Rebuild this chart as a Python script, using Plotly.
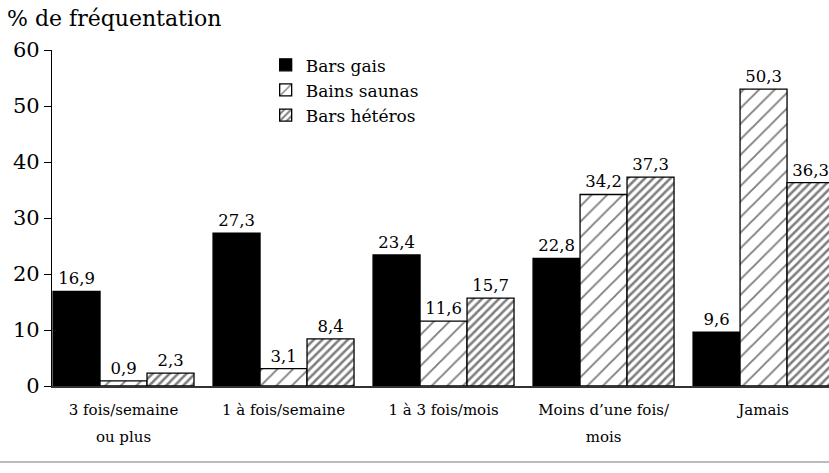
import plotly.graph_objects as go

categories_line1 = ["3 fois/semaine", "1 à fois/semaine", "1 à 3 fois/mois",
                    "Moins d’une fois/", "Jamais"]
categories_line2 = ["ou plus", "", "", "mois", ""]
series_names = ["Bars gais", "Bains saunas", "Bars hétéros"]
bars_gais = [16.9, 27.3, 23.4, 22.8, 9.6]
bains_saunas = [0.9, 3.1, 11.6, 34.2, 53.0]   # last bar drawn taller than its label in the picture
bars_heteros = [2.3, 8.4, 15.7, 37.3, 36.3]
labels_gais = ["16,9", "27,3", "23,4", "22,8", "9,6"]
labels_saunas = ["0,9", "3,1", "11,6", "34,2", "50,3"]
labels_heteros = ["2,3", "8,4", "15,7", "37,3", "36,3"]
y_ticks = [0, 10, 20, 30, 40, 50, 60]

FONT = "DejaVu Serif"
xs = list(range(len(categories_line1)))

fig = go.Figure()
series = [
    (series_names[0], bars_gais, labels_gais, dict(color="black")),
    (series_names[1], bains_saunas, labels_saunas,
     dict(color="white", pattern=dict(shape="/", size=11, solidity=0.17, fgcolor="black", bgcolor="white"))),
    (series_names[2], bars_heteros, labels_heteros,
     dict(color="white", pattern=dict(shape="/", size=6, solidity=0.42, fgcolor="black", bgcolor="white"))),
]
for name, vals, labs, mk in series:
    fig.add_trace(go.Bar(
        x=xs, y=vals, name=name, text=labs, textposition="outside",
        textfont=dict(family=FONT, size=16.5, color="black"),
        cliponaxis=False,
        marker=dict(line=dict(color="black", width=1.3), **mk),
    ))
# empty helper trace so the second-line category axis is drawn
fig.add_trace(go.Scatter(x=[], y=[], xaxis="x2", showlegend=False, hoverinfo="skip"))

xrange = [-0.447, 4.409]
fig.update_layout(
    width=829, height=473,
    margin=dict(l=52, r=0, t=50, b=87),
    paper_bgcolor="white", plot_bgcolor="white",
    barmode="group", bargap=0.119, bargroupgap=0,
    font=dict(family=FONT, color="black"),
    showlegend=True,
    legend=dict(x=0.275, y=1.008, xanchor="left", yanchor="top",
                font=dict(family=FONT, size=17, color="black"),
                bgcolor="rgba(0,0,0,0)", tracegroupgap=0),
    xaxis=dict(
        tickmode="array", tickvals=xs, ticktext=categories_line1,
        range=xrange, showgrid=False, zeroline=False,
        showline=True, linecolor="#333", linewidth=1.5,
        ticks="", ticklabelstandoff=9,
        tickfont=dict(family=FONT, size=15, color="black"),
    ),
    xaxis2=dict(
        overlaying="x", anchor="y", side="bottom",
        tickmode="array", tickvals=xs, ticktext=categories_line2,
        range=xrange, showgrid=False, zeroline=False, showline=False,
        ticks="", ticklabelstandoff=40,
        tickfont=dict(family=FONT, size=15, color="black"),
    ),
    yaxis=dict(
        range=[0, 60], tickvals=y_ticks, showgrid=False, zeroline=False,
        showline=True, linecolor="black", linewidth=1.3,
        ticks="outside", ticklen=7, tickwidth=1.3, tickcolor="black",
        tickfont=dict(family=FONT, size=21, color="black"),
    ),
    annotations=[dict(
        text="% de fréquentation", xref="paper", yref="paper",
        x=-0.061, y=1.095, xanchor="left", yanchor="middle", showarrow=False,
        font=dict(family=FONT, size=22, color="black"),
    )],
    shapes=[dict(type="line", xref="paper", yref="paper",
                 x0=-0.07, x1=1.0, y0=-0.226, y1=-0.226,
                 line=dict(color="#bbbbbb", width=2))],
)

fig.write_html("out.html", config={"displayModeBar": False},
               post_script="document.body.style.margin='0';")
